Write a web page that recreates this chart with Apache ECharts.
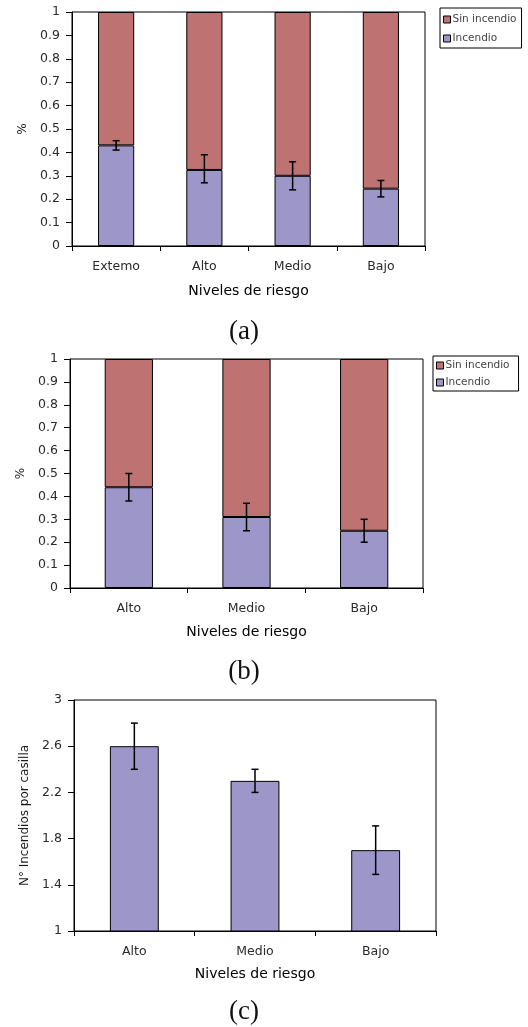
<!DOCTYPE html>
<html><head><meta charset="utf-8">
<script src="https://cdn.jsdelivr.net/npm/echarts@6/dist/echarts.min.js"></script>
<style>html,body{margin:0;padding:0;background:#fff}#c{width:528px;height:1027px}</style>
</head><body><div id="c"></div>
<script>
// ---- data ----
const catsA = ['Extemo', 'Alto', 'Medio', 'Bajo'];
const incA = [0.43, 0.325, 0.30, 0.245];
const sinA = [0.57, 0.675, 0.70, 0.755];
const errLowA = [0.41, 0.27, 0.24, 0.21];
const errHighA = [0.45, 0.39, 0.36, 0.28];

const catsB = ['Alto', 'Medio', 'Bajo'];
const incB = [0.44, 0.31, 0.25];
const sinB = [0.56, 0.69, 0.75];
const errLowB = [0.38, 0.25, 0.20];
const errHighB = [0.50, 0.37, 0.30];

const catsC = ['Alto', 'Medio', 'Bajo'];
const valC = [2.6, 2.3, 1.7];
const errLowC = [2.4, 2.2, 1.49];
const errHighC = [2.8, 2.4, 1.91];

const yTicksPct = [0, 1, 0.1];      // min, max, interval
const yTicksC = [1, 3, 0.4];

// ---- styles ----
const RED = '#BE7272', BLUE = '#9D96C9';
const FONT = 'DejaVu Sans';
const labelStyle = {color: '#2a2a2a', fontFamily: FONT, fontSize: 12.5};

function errData(lo, hi) { return lo.map((v, i) => [i, v, hi[i]]); }
function errSeries(idx, lo, hi) {
  return {
    type: 'custom', xAxisIndex: idx, yAxisIndex: idx, z: 10,
    data: errData(lo, hi),
    encode: {x: 0, y: [1, 2]},
    renderItem: function (params, api) {
      const a = api.coord([api.value(0), api.value(1)]);
      const b = api.coord([api.value(0), api.value(2)]);
      const w = 3.5;
      const st = {stroke: '#000', lineWidth: 1.5};
      return {type: 'group', children: [
        {type: 'line', shape: {x1: a[0], y1: a[1], x2: b[0], y2: b[1]}, style: st},
        {type: 'line', shape: {x1: a[0] - w, y1: a[1], x2: a[0] + w, y2: a[1]}, style: st},
        {type: 'line', shape: {x1: b[0] - w, y1: b[1], x2: b[0] + w, y2: b[1]}, style: st}
      ]};
    }
  };
}
function xAx(idx, cats, gap) {
  return {
    type: 'category', gridIndex: idx, data: cats,
    axisLine: {lineStyle: {color: '#000', width: 1}},
    axisTick: {show: true, length: 5, lineStyle: {color: '#000'}},
    axisLabel: Object.assign({margin: 14}, labelStyle),
    name: 'Niveles de riesgo', nameLocation: 'middle', nameGap: gap,
    nameTextStyle: {color: '#000', fontFamily: FONT, fontSize: 14}
  };
}
function yAx(idx, t, name, gap) {
  return {
    type: 'value', gridIndex: idx, min: t[0], max: t[1], interval: t[2],
    axisLine: {show: true, lineStyle: {color: '#000', width: 1}},
    axisTick: {show: true, length: 6, lineStyle: {color: '#000'}},
    splitLine: {show: false},
    axisLabel: Object.assign({margin: 12}, labelStyle),
    name: name, nameLocation: 'middle', nameGap: gap, nameRotate: 90,
    nameTextStyle: {color: '#1a1a1a', fontFamily: FONT, fontSize: 12}
  };
}
const barBorder = {borderColor: '#000', borderWidth: 1};
function legend(left, top, gap, pad) {
  return {
    left: left, top: top, orient: 'vertical',
    data: ['Sin incendio', 'Incendio'],
    itemWidth: 7, itemHeight: 7, itemGap: gap,
    borderColor: '#000', borderWidth: 1, padding: pad,
    textStyle: {color: '#444', fontFamily: FONT, fontSize: 10.5, padding: [0, 0, 0, -3]},
    itemStyle: {borderColor: '#000', borderWidth: 1},
    icon: 'rect', selectedMode: false
  };
}
function panelLabel(txt, y) {
  return {type: 'text', x: 244, y: y, style: {text: txt, fill: '#111', font: '27px "Liberation Serif"', textAlign: 'center', textVerticalAlign: 'middle'}};
}

const option = {
  animation: false,
  backgroundColor: '#fff',
  grid: [
    {left: 72, top: 12, width: 353, height: 234, show: true, borderColor: '#000', borderWidth: 1, backgroundColor: 'transparent'},
    {left: 70, top: 359, width: 353, height: 229, show: true, borderColor: '#000', borderWidth: 1, backgroundColor: 'transparent'},
    {left: 74, top: 700, width: 362, height: 231, show: true, borderColor: '#000', borderWidth: 1, backgroundColor: 'transparent'}
  ],
  legend: [legend(440, 8, 8, [6, 5, 4, 3]), legend(433, 356, 6, [4, 9, 3, 3])],
  xAxis: [xAx(0, catsA, 38), xAx(1, catsB, 37), xAx(2, catsC, 36)],
  yAxis: [yAx(0, yTicksPct, '%', 42), yAx(1, yTicksPct, '%', 42), yAx(2, yTicksC, 'N° Incendios por casilla', 37)],
  series: [
    {name: 'Incendio', type: 'bar', xAxisIndex: 0, yAxisIndex: 0, stack: 'a', data: incA, barWidth: '41%', itemStyle: Object.assign({color: BLUE}, barBorder)},
    {name: 'Sin incendio', type: 'bar', xAxisIndex: 0, yAxisIndex: 0, stack: 'a', data: sinA, barWidth: '41%', itemStyle: Object.assign({color: RED}, barBorder)},
    errSeries(0, errLowA, errHighA),
    {name: 'Incendio', type: 'bar', xAxisIndex: 1, yAxisIndex: 1, stack: 'b', data: incB, barWidth: '41%', itemStyle: Object.assign({color: BLUE}, barBorder)},
    {name: 'Sin incendio', type: 'bar', xAxisIndex: 1, yAxisIndex: 1, stack: 'b', data: sinB, barWidth: '41%', itemStyle: Object.assign({color: RED}, barBorder)},
    errSeries(1, errLowB, errHighB),
    {name: 'N° Incendios', type: 'bar', xAxisIndex: 2, yAxisIndex: 2, data: valC, barWidth: '40.5%', itemStyle: Object.assign({color: BLUE}, barBorder)},
    errSeries(2, errLowC, errHighC)
  ],
  graphic: [panelLabel('(a)', 332), panelLabel('(b)', 672), panelLabel('(c)', 1012)]
};
const chart = echarts.init(document.getElementById('c'), null, {renderer: 'canvas'});
chart.setOption(option);
</script></body></html>
